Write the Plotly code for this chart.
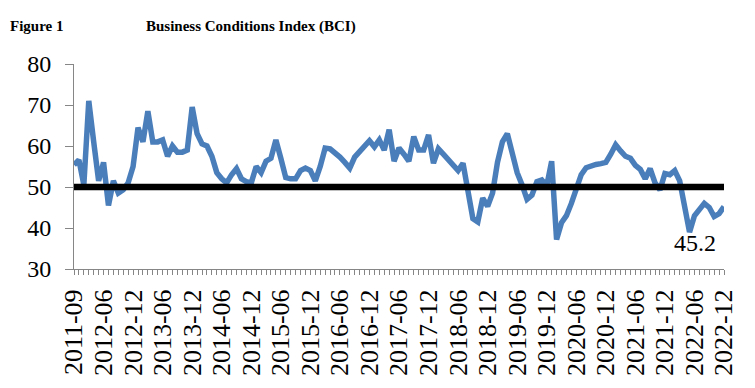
import plotly.graph_objects as go

# Category labels (months) — first few points are irregular, then monthly from 2012-06
months = ["2011-09", "2011-12", "2012-02", "2012-03", "2012-04", "2012-05"]
for y in range(2012, 2023):
    for m in range(1, 13):
        if y == 2012 and m < 6:
            continue
        months.append(f"{y}-{m:02d}")

bci = [
    55.4, 56.6, 50.5, 71.0, 61.0, 51.5, 56.0, 45.5, 51.5, 48.5,
    49.3, 51.0, 55.0, 64.5, 61.0, 68.5, 61.0, 61.0, 61.5, 57.5,
    60.0, 58.5, 58.5, 59.0, 69.5, 63.0, 60.5, 60.0, 57.5, 53.5,
    52.0, 51.0, 53.0, 54.5, 52.0, 51.3, 51.0, 55.0, 53.5, 56.3,
    57.0, 61.5, 57.0, 52.3, 52.0, 52.0, 54.0, 54.6, 54.0, 51.5,
    55.0, 59.5, 59.3, 58.5, 57.3, 56.0, 54.6, 57.3, 58.5, 60.0,
    61.3, 59.8, 61.5, 59.0, 64.0, 56.3, 59.5, 58.0, 56.3, 62.3,
    59.0, 59.0, 62.7, 55.8, 59.3, 58.0, 56.5, 55.0, 54.0, 55.8,
    49.0, 42.3, 41.5, 47.3, 45.3, 48.5, 56.0, 61.0, 63.0, 58.5,
    53.5, 50.5, 47.0, 48.0, 51.3, 51.7, 50.3, 56.3, 37.2, 41.3,
    43.0, 46.0, 50.0, 53.0, 54.7, 55.2, 55.5, 55.7, 56.0, 58.0,
    60.3, 58.8, 57.5, 57.0, 55.3, 54.3, 52.0, 54.5, 51.0, 49.3,
    53.3, 53.0, 54.0, 51.5, 45.0, 39.0, 43.0, 44.5, 46.0, 45.0,
    42.8, 43.5, 45.2,
]
threshold = 50
last_label = "45.2"

y_ticks = [30, 40, 50, 60, 70, 80]
tick_every = 6

x = list(range(len(bci)))
n = len(bci) - 1
tickvals = list(range(0, len(months), tick_every))
ticktext = [months[i] for i in tickvals]

serif = "Liberation Serif, Times New Roman, serif"

fig = go.Figure()
fig.add_trace(go.Scatter(x=x, y=bci, mode="lines",
                         line=dict(color="#4A7EBB", width=5.5), hoverinfo="skip"))
fig.add_trace(go.Scatter(x=[0, n], y=[threshold, threshold], mode="lines",
                         line=dict(color="black", width=6.5), hoverinfo="skip"))

fig.update_layout(
    width=747, height=380,
    margin=dict(l=66, r=31, t=56, b=119),
    paper_bgcolor="white", plot_bgcolor="white",
    showlegend=False,
    font=dict(family=serif, color="black"),
)
fig.update_xaxes(
    range=[0, n], showgrid=False, zeroline=False, automargin=False,
    showline=True, linecolor="#868686", linewidth=1,
    tickvals=tickvals, ticktext=ticktext, tickangle=-90,
    ticks="outside", ticklen=5, tickcolor="#868686",
    minor=dict(dtick=1, tick0=0, ticks="outside", ticklen=5, tickcolor="#868686"),
    tickfont=dict(size=26, family=serif, color="black"),
    ticklabelstandoff=4,
)
fig.update_yaxes(
    range=[30, 80], showgrid=False, zeroline=False, automargin=False,
    showline=True, linecolor="#868686", linewidth=1,
    tickvals=y_ticks, ticks="outside", ticklen=8, tickcolor="#868686",
    tickfont=dict(size=24, family=serif, color="black"),
    ticklabelstandoff=9,
)

fig.add_annotation(x=0, y=1, xref="paper", yref="paper", xshift=-66, yshift=38,
                   text="<b>Figure 1</b>",
                   showarrow=False, xanchor="left", yanchor="middle",
                   font=dict(size=15, family=serif, color="black"))
fig.add_annotation(x=0, y=1, xref="paper", yref="paper", xshift=177, yshift=38,
                   text="<b>Business Conditions Index (BCI)</b>",
                   showarrow=False, xanchor="center", yanchor="middle",
                   font=dict(size=15, family=serif, color="black"))
fig.add_annotation(x=n - 5.8, y=36.3, text=last_label, showarrow=False,
                   xanchor="center", yanchor="middle",
                   font=dict(size=24, family=serif, color="black"))

fig.write_html("out.html")
